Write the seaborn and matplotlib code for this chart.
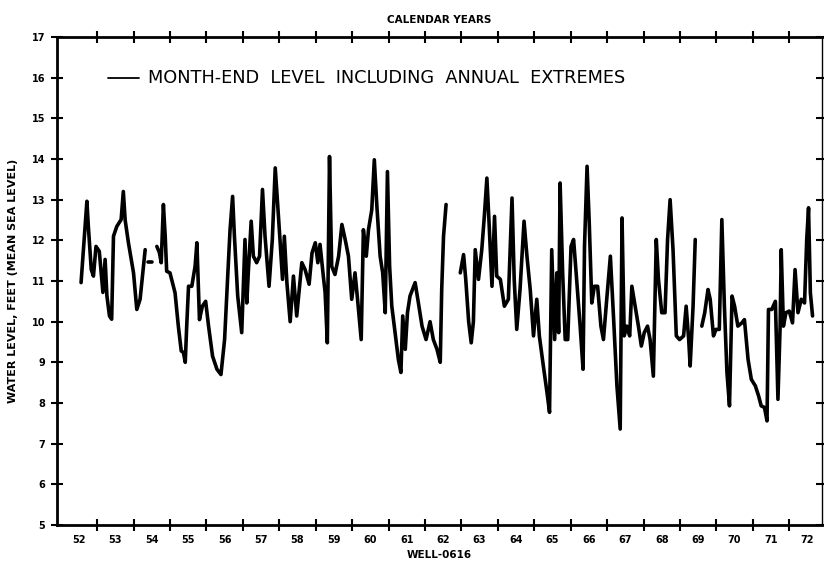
import matplotlib
matplotlib.use("Agg")
import matplotlib.pyplot as plt
import seaborn as sns
import pandas as pd

# Month-end water levels (feet, mean sea level), in continuous record segments
seg1_year = [1952.56, 1952.72, 1952.76, 1952.84, 1952.90, 1952.97, 1953.06, 1953.16,
             1953.22, 1953.27, 1953.34, 1953.40, 1953.45, 1953.54, 1953.66, 1953.72,
             1953.77, 1953.86, 1954.00, 1954.09, 1954.18, 1954.32]
seg1_level = [10.96, 12.96, 12.34, 11.28, 11.12, 11.85, 11.73, 10.72,
              11.53, 10.63, 10.14, 10.06, 12.10, 12.34, 12.51, 13.20,
              12.50, 11.94, 11.20, 10.30, 10.55, 11.77]

seg2_year = [1954.40, 1954.51]
seg2_level = [11.46, 11.46]

seg3_year = [1954.64, 1954.71, 1954.76, 1954.82, 1954.87, 1954.91, 1955.00, 1955.14,
             1955.23, 1955.31, 1955.37, 1955.42, 1955.46, 1955.51, 1955.60, 1955.69,
             1955.74, 1955.81, 1955.89, 1955.98, 1956.06, 1956.17, 1956.29, 1956.40,
             1956.50, 1956.59, 1956.65, 1956.72, 1956.77, 1956.86, 1956.97, 1957.06,
             1957.11, 1957.15, 1957.23, 1957.29, 1957.38, 1957.46, 1957.54, 1957.61,
             1957.72, 1957.81, 1957.89, 1957.96, 1958.02, 1958.09, 1958.14, 1958.21,
             1958.30, 1958.39, 1958.48, 1958.62, 1958.71, 1958.82, 1958.90, 1958.99,
             1959.06, 1959.12, 1959.21, 1959.26, 1959.32, 1959.38, 1959.44, 1959.53,
             1959.63, 1959.72, 1959.81, 1959.90, 1959.99, 1960.08, 1960.15, 1960.25,
             1960.31, 1960.39, 1960.45, 1960.54, 1960.61, 1960.68, 1960.77, 1960.84,
             1960.91, 1960.97, 1961.03, 1961.09, 1961.18, 1961.27, 1961.34, 1961.39,
             1961.46, 1961.52, 1961.59, 1961.73, 1961.82, 1961.92, 1962.03, 1962.14,
             1962.23, 1962.33, 1962.42, 1962.46, 1962.51, 1962.58]
seg3_level = [11.85, 11.70, 11.45, 12.88, 12.10, 11.24, 11.20, 10.71,
              9.89, 9.28, 9.24, 9.00, 9.89, 10.87, 10.87, 11.36,
              11.94, 10.05, 10.38, 10.50, 9.89, 9.15, 8.83, 8.70,
              9.56, 11.20, 12.26, 13.08, 12.10, 10.63, 9.73, 12.02,
              10.46, 11.20, 12.47, 11.61, 11.45, 11.61, 13.25, 12.10,
              10.87, 12.02, 13.78, 12.84, 12.02, 11.04, 12.10, 10.96,
              10.00, 11.12, 10.14, 11.45, 11.28, 10.92, 11.69, 11.94,
              11.45, 11.90, 11.12, 10.71, 9.48, 14.06, 11.36, 11.16,
              11.61, 12.39, 12.02, 11.61, 10.55, 11.20, 10.55, 9.56,
              12.26, 11.61, 12.26, 12.75, 13.98, 12.84, 11.61, 11.20,
              10.22, 13.69, 11.36, 10.38, 9.73, 9.07, 8.75, 10.14,
              9.32, 10.22, 10.63, 10.96, 10.46, 9.89, 9.56, 10.00,
              9.56, 9.32, 9.00, 10.79, 12.10, 12.88]

seg4_year = [1962.97, 1963.06, 1963.12, 1963.20, 1963.27, 1963.33, 1963.38, 1963.47,
             1963.56, 1963.63, 1963.70, 1963.76, 1963.84, 1963.91, 1963.97, 1964.07,
             1964.18, 1964.29, 1964.39, 1964.45, 1964.52, 1964.61, 1964.72, 1964.80,
             1964.89, 1964.98, 1965.07, 1965.14, 1965.25, 1965.35, 1965.42, 1965.48,
             1965.56, 1965.62, 1965.67, 1965.71, 1965.78, 1965.85, 1965.92, 1966.01,
             1966.08, 1966.15, 1966.26, 1966.34, 1966.38, 1966.45, 1966.51, 1966.58,
             1966.65, 1966.74, 1966.83, 1966.90, 1966.99, 1967.09, 1967.18, 1967.27,
             1967.36, 1967.41, 1967.47, 1967.54, 1967.62, 1967.68, 1967.77, 1967.86,
             1967.94, 1968.02, 1968.11, 1968.18, 1968.27, 1968.35, 1968.41, 1968.50,
             1968.59, 1968.66, 1968.73, 1968.81, 1968.90, 1968.99, 1969.10, 1969.17,
             1969.24, 1969.28, 1969.36, 1969.42]
seg4_level = [11.20, 11.65, 11.04, 10.00, 9.48, 10.00, 11.77, 11.04,
              11.77, 12.59, 13.53, 12.43, 10.87, 12.59, 11.12, 11.04,
              10.38, 10.55, 13.04, 11.04, 9.81, 10.79, 12.47, 11.61,
              10.79, 9.65, 10.55, 9.65, 8.91, 8.26, 7.77, 11.77,
              9.56, 11.20, 9.73, 13.41, 11.20, 9.56, 9.56, 11.85,
              12.02, 11.20, 9.89, 8.83, 11.85, 13.82, 12.43, 10.46,
              10.87, 10.87, 9.89, 9.56, 10.55, 11.61, 10.05, 8.42,
              7.36, 12.55, 9.65, 9.89, 9.65, 10.87, 10.38, 9.89,
              9.40, 9.73, 9.89, 9.56, 8.66, 12.02, 11.04, 10.22,
              10.22, 12.02, 13.00, 11.77, 9.65, 9.56, 9.65, 10.38,
              9.56, 8.91, 10.38, 12.02]

seg5_year = [1969.60, 1969.68, 1969.77, 1969.83, 1969.92, 1969.99, 1970.08, 1970.15,
             1970.22, 1970.29, 1970.36, 1970.43, 1970.50, 1970.59, 1970.70, 1970.77,
             1970.87, 1970.96, 1971.07, 1971.16, 1971.23, 1971.32, 1971.39, 1971.43,
             1971.52, 1971.62, 1971.69, 1971.75, 1971.78, 1971.84, 1971.91, 1972.00,
             1972.09, 1972.16, 1972.24, 1972.33, 1972.42, 1972.48, 1972.53, 1972.58,
             1972.64]
seg5_level = [9.89, 10.22, 10.79, 10.55, 9.65, 9.81, 9.81, 12.51,
              10.38, 8.75, 7.93, 10.63, 10.38, 9.89, 9.97, 10.05,
              9.07, 8.58, 8.42, 8.17, 7.93, 7.89, 7.56, 10.30,
              10.30, 10.50, 8.09, 9.89, 11.77, 9.89, 10.22, 10.26,
              9.97, 11.28, 10.22, 10.55, 10.46, 12.02, 12.80, 10.71,
              10.14]

year_ticks = list(range(1953, 1973))
year_labels = [f"{y % 100:02d}" for y in range(1952, 1973)]
level_ticks = list(range(5, 18))

segments = [(seg1_year, seg1_level), (seg2_year, seg2_level), (seg3_year, seg3_level),
            (seg4_year, seg4_level), (seg5_year, seg5_level)]
frames = []
for i, (yr, lv) in enumerate(segments):
    frames.append(pd.DataFrame({"year": yr, "level": lv, "segment": i}))
df = pd.concat(frames, ignore_index=True)

sns.set_style("ticks")
plt.rcParams["font.family"] = ["DejaVu Sans"]
plt.rcParams["text.color"] = "black"
plt.rcParams["axes.labelcolor"] = "black"
plt.rcParams["xtick.color"] = "black"
plt.rcParams["ytick.color"] = "black"

fig = plt.figure(figsize=(8.24, 5.68), dpi=100)
ax = fig.add_axes([0.0692, 0.0757, 0.9284, 0.8592])

sns.lineplot(data=df, x="year", y="level", units="segment", estimator=None,
             color="black", linewidth=2.6, ax=ax, sort=False)

ax.set_xlim(1951.9, 1972.9)
ax.set_ylim(5, 17)

ax.set_xticks(year_ticks)
ax.set_xticklabels([])
ax.set_xticks([y + 0.5 for y in range(1952, 1973)], minor=True)
ax.set_xticklabels(year_labels, minor=True, fontsize=7, fontweight="bold")
ax.tick_params(axis="x", which="minor", length=0, pad=7, colors="black")
ax.tick_params(axis="x", which="major", direction="inout", length=9, width=1.5,
               top=True, bottom=True, colors="black")

ax.set_yticks(level_ticks)
ax.set_yticklabels([str(v) for v in level_ticks], fontsize=7, fontweight="bold")
ax.tick_params(axis="y", which="major", direction="inout", length=9, width=1.5,
               left=True, right=True, pad=4, colors="black")

for side in ["left", "bottom", "top"]:
    ax.spines[side].set_linewidth(2.0)
ax.spines["right"].set_linewidth(1.0)
for s in ax.spines.values():
    s.set_color("black")

ax.set_xlabel("WELL-0616", fontsize=7.5, fontweight="bold", labelpad=4, color="black")
ax.set_ylabel("WATER LEVEL, FEET (MEAN SEA LEVEL)", fontsize=8, fontweight="bold",
              labelpad=10, color="black")
ax.set_title("CALENDAR YEARS", fontsize=7.5, fontweight="bold", pad=10, color="black")

# In-plot key for the single series
ax.plot([1953.3, 1954.15], [16.0, 16.0], color="black", linewidth=1.3)
ax.text(1954.4, 16.0, "MONTH-END  LEVEL  INCLUDING  ANNUAL  EXTREMES",
        fontsize=12.8, va="center", ha="left", color="black")

ax.grid(False)
fig.savefig("out.png", dpi=100, facecolor="white")
